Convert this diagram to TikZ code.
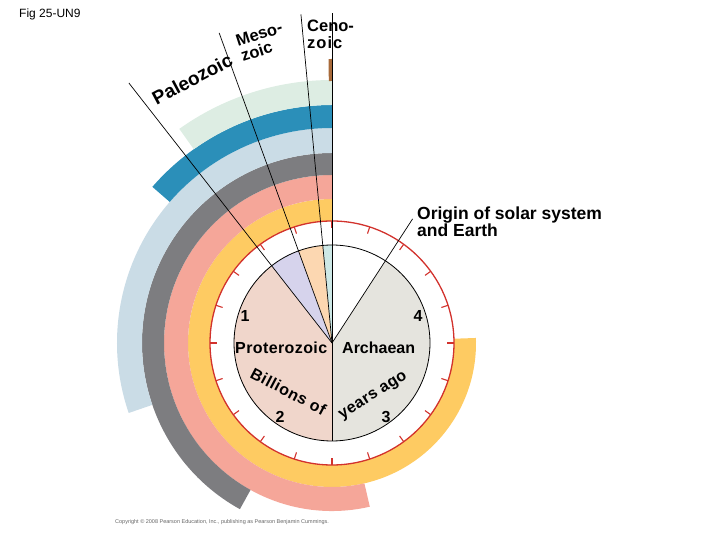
\documentclass[tikz,border=0pt]{standalone}
\usepackage{fontspec}
\setmainfont{Liberation Sans}
\usetikzlibrary{calc}
\definecolor{cyellow}{HTML}{FECB62}
\definecolor{cpink}{HTML}{F5A699}
\definecolor{cgray}{HTML}{7D7D80}
\definecolor{clblue}{HTML}{CADCE6}
\definecolor{cteal}{HTML}{2B8FB9}
\definecolor{cmint}{HTML}{DDEDE3}
\definecolor{cbrown}{HTML}{A86A3A}
\definecolor{cred}{HTML}{D2322D}
\definecolor{cprot}{HTML}{F0D6CB}
\definecolor{carch}{HTML}{E5E4DE}
\definecolor{cpaleo}{HTML}{D6D3EC}
\definecolor{cmeso}{HTML}{FCD7B1}
\definecolor{cceno}{HTML}{CDE8E6}
\newcommand\lblf{\bfseries\fontsize{16.5}{17}\selectfont}
\newcommand\paleof{\bfseries\fontsize{19}{19}\selectfont}
\newcommand\pief{\bfseries\fontsize{16}{16}\selectfont}
\newcommand\annsec[5]{\fill[#1, shift={(C)}] (#2:#4) arc[start angle=#2, end angle=#3, radius=#4] -- (#3:#5) arc[start angle=#3, end angle=#2, radius=#5] -- cycle;}
\newcommand\piesec[3]{\fill[#1, shift={(C)}] (0,0) -- (#2:98) arc[start angle=#2, end angle=#3, radius=98] -- cycle;}
\begin{document}
\begin{tikzpicture}[x=1pt,y=1pt,line join=round,
  secline/.style={black, line width=0.7pt},
  lbl/.style={font=\lblf, inner sep=0pt},
  numlbl/.style={font=\pief, inner sep=0pt},
  eralbl/.style={font=\pief, inner sep=0pt, anchor=base west},
  ticks/.style={cred, line width=1.1pt}]
\useasboundingbox (0,0) rectangle (720,540);
\coordinate (C) at (332,197);
% bands
\annsec{cyellow}{90}{362}{122}{144}
\annsec{cpink}{90}{283}{144}{168}
\annsec{cgray}{90}{241}{168}{190}
\annsec{clblue}{90}{199}{190}{215}
\annsec{cteal}{90}{139}{215}{238}
\annsec{cmint}{90}{125.5}{238}{263}
\annsec{cbrown}{90}{90.7}{262}{284}
% dial
\draw[cred, line width=1.3pt] (C) circle[radius=122];
\foreach \a in {0,18,...,342} \draw[ticks] ($(C)+(\a:122)$) -- ($(C)+(\a:115)$);
% pie
\piesec{carch}{-90}{57}
\piesec{cprot}{128}{270}
\piesec{cpaleo}{110}{128}
\piesec{cmeso}{95.4}{110}
\piesec{cceno}{90}{95.4}
\draw[black, line width=0.8pt] (C) circle[radius=98];
% radial lines
\coordinate (e0) at ($(C)+(90:330)$);
\coordinate (e1) at ($(C)+(95.4:330)$);
\coordinate (e2) at ($(C)+(110:330)$);
\coordinate (e3) at ($(C)+(128:330)$);
\coordinate (eb) at ($(C)+(270:98)$);
\coordinate (eo) at ($(C)+(57:148)$);
\draw[secline] (C) -- (e0);
\draw[secline] (C) -- (e1);
\draw[secline] (C) -- (e2);
\draw[secline] (C) -- (e3);
\draw[secline] (C) -- (eb);
\draw[secline] (C) -- (eo);
% era labels
\node[font=\paleof, inner sep=0pt, anchor=base west, rotate=28] (paleo) at ($(C)+(126.5:295)$) {Paleozoic};
\node[lbl, anchor=base west, rotate=18] (meso1) at (238,493) {Meso-};
\node[lbl, anchor=base west, rotate=18] (meso2) at (243,478) {zoic};
\node[lbl, anchor=base west] (ceno1) at (307,508) {Ceno-};
\node[lbl, anchor=base west] (ceno2) at (307,491) {z\kern1pt o\kern1pt i\kern1pt c};
% origin label
\node[font=\bfseries\fontsize{17.5}{18}\selectfont, inner sep=0pt, anchor=base west] (orig1) at (417,320) {Origin of solar system};
\node[font=\bfseries\fontsize{17.5}{18}\selectfont, inner sep=0pt, anchor=base west] (orig2) at (417,303) {and Earth};
% pie texts
\node[eralbl] (prot) at (235,186) {P\kern.4pt r\kern.4pt o\kern.4pt t\kern.4pt e\kern.4pt r\kern.4pt o\kern.4pt z\kern.4pt o\kern.4pt i\kern.4pt c};
\node[eralbl] (arch) at (342,186) {Archaean};
\node[eralbl, rotate=-27.8] (bill) at (249,163) {B\kern.6pt i\kern.6pt l\kern.6pt l\kern.6pt i\kern.6pt o\kern.6pt n\kern.6pt s\kern.6pt\ o\kern.6pt f};
\node[eralbl, rotate=32.2] (years) at (342,120.5) {y\kern.4pt e\kern.4pt a\kern.4pt r\kern.4pt s\kern.4pt\ a\kern.4pt g\kern.4pt o};
\node[numlbl] (n1) at (245,224) {1};
\node[numlbl] (n2) at (280,123) {2};
\node[numlbl] (n3) at (386,123) {3};
\node[numlbl] (n4) at (418,224) {4};
% captions
\node[font=\fontsize{12}{12}\selectfont, inner sep=0pt, anchor=base west] (fig) at (19,522) {Fig 25-UN9};
\node[font=\fontsize{5.5}{6}\selectfont, text=black!60, inner sep=0pt, anchor=base west] (copy) at (115,16) {Copyright © 2008 Pearson Education, Inc., publishing as Pearson Benjamin Cummings.};
\end{tikzpicture}
\end{document}
